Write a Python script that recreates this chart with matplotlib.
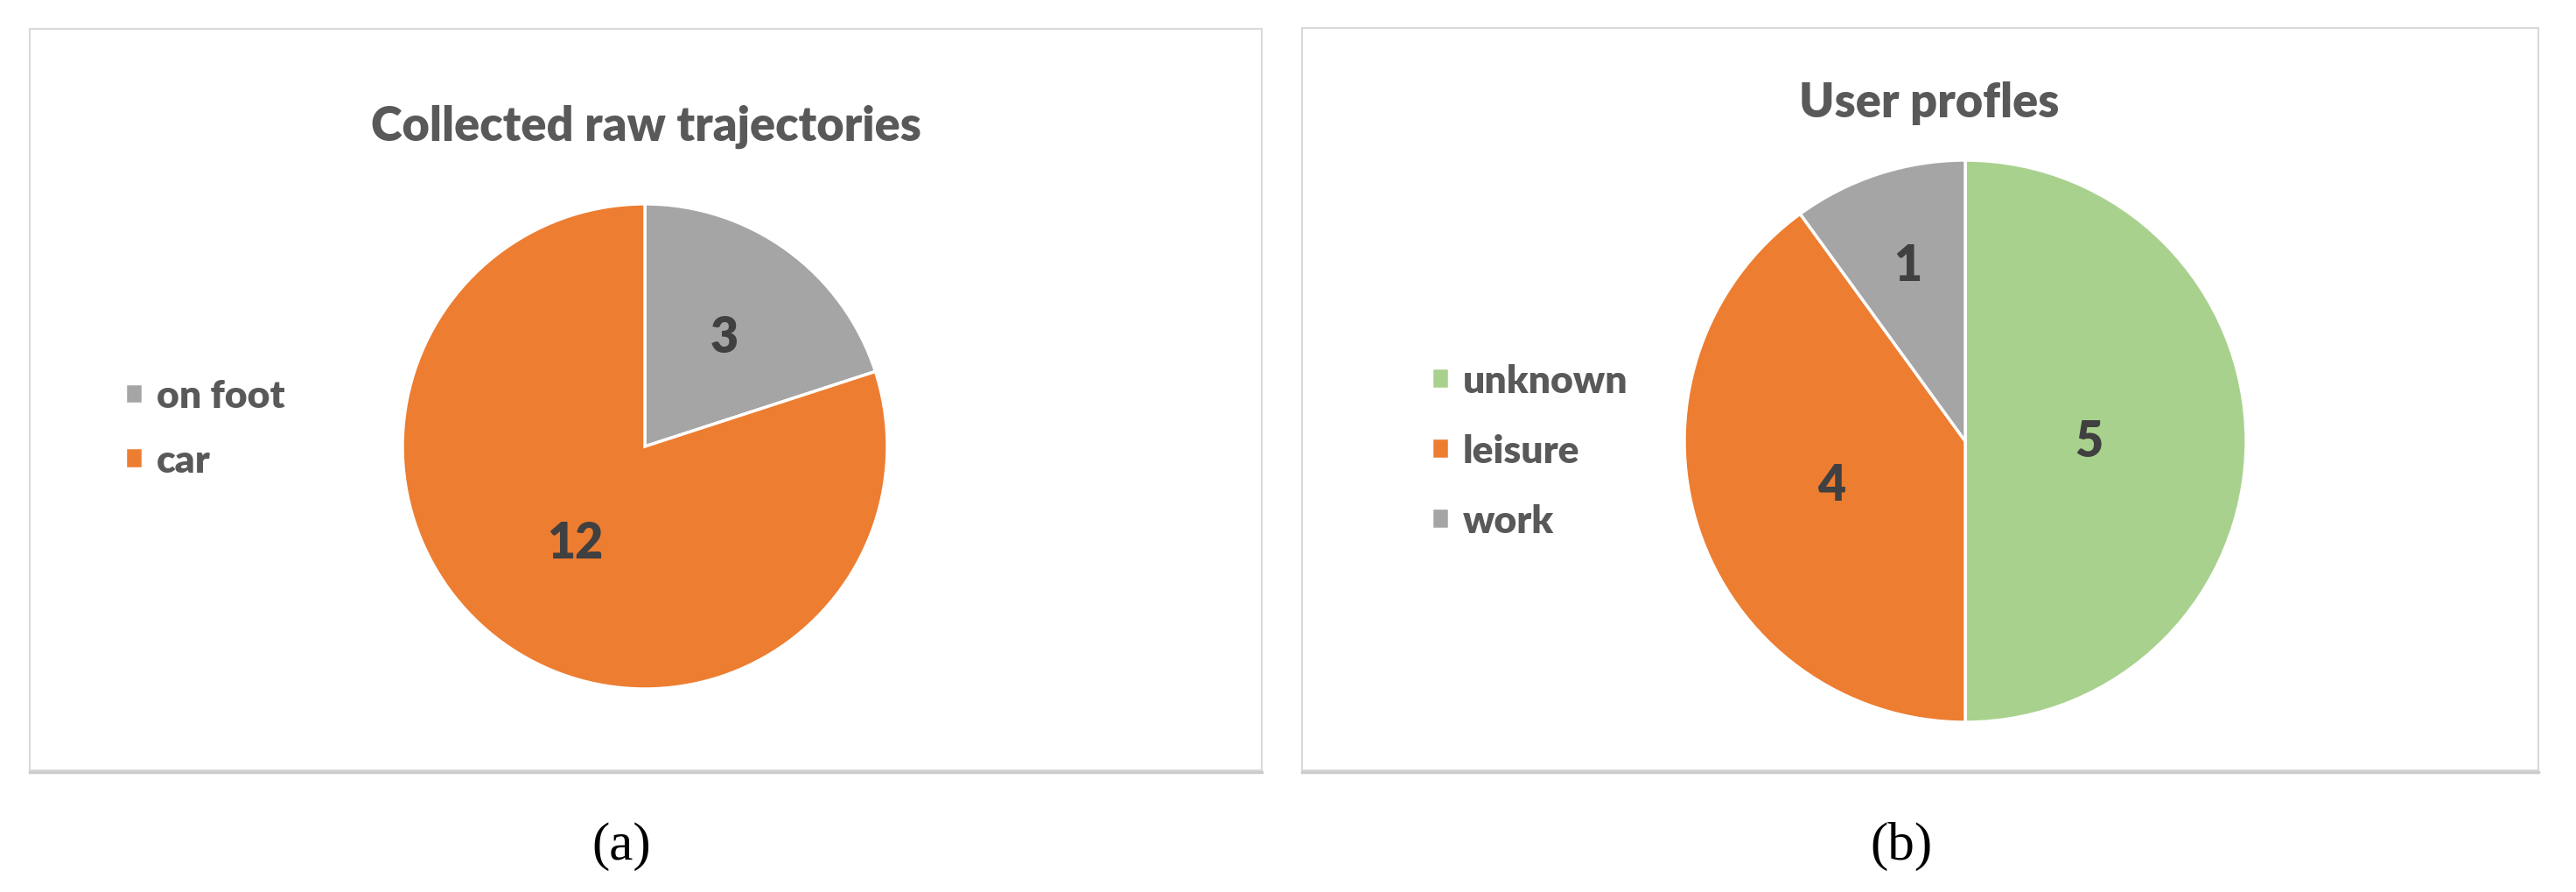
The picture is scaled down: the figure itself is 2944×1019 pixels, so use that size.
import matplotlib
matplotlib.use('Agg')
import matplotlib.pyplot as plt
from matplotlib.patches import Rectangle
import numpy as np

# data
traj_labels = ['on foot', 'car']
traj_values = [3, 12]
profile_labels = ['unknown', 'leisure', 'work']
profile_values = [5, 4, 1]

# excel-ish colours
GREY = '#A5A5A5'
ORANGE = '#ED7D31'
GREEN = '#A9D18E'
TXT = '#595959'
LBL = '#404040'

W, H = 2944, 1020
fig = plt.figure(figsize=(W / 100, H / 100), dpi=100)
plt.rcParams['font.family'] = ['Lato', 'DejaVu Sans']


def px_rect(x0, y0, x1, y1):
    # pixel box (top-left origin) -> figure fraction rect
    return [x0 / W, 1 - y1 / H, (x1 - x0) / W, (y1 - y0) / H]


def frame(x0, y0, x1, y1):
    fig.patches.append(Rectangle((x0 / W, 1 - y1 / H), (x1 - x0) / W, (y1 - y0) / H,
                                 transform=fig.transFigure, fill=False,
                                 edgecolor='#D9D9D9', lw=1.5))
    fig.lines.append(plt.Line2D([x0 / W, x1 / W], [1 - (y1 + 2) / H] * 2,
                                transform=fig.transFigure, color='#CCCCCC', lw=2.5))


def pie_panel(cx, cy, r, values, labels, colors, dists, leg_x, leg_y, spacing):
    ax = fig.add_axes(px_rect(cx - r, cy - r, cx + r, cy + r))
    wedges, _ = ax.pie(values, colors=colors, startangle=90, counterclock=False,
                       radius=1, wedgeprops=dict(edgecolor='white', linewidth=2.5))
    ax.set_xlim(-1, 1)
    ax.set_ylim(-1, 1)
    ax.set_aspect('equal')
    ax.axis('off')
    for w, v, d in zip(wedges, values, dists):
        ang = np.deg2rad((w.theta1 + w.theta2) / 2)
        ax.text(d * np.cos(ang), d * np.sin(ang), str(v), ha='center', va='center',
                fontsize=40, fontweight='heavy', color=LBL)
    ax.legend(wedges, labels, loc='center left', bbox_to_anchor=(leg_x / W, 1 - leg_y / H),
              bbox_transform=fig.transFigure, frameon=False,
              handlelength=0.45, handleheight=0.45, handletextpad=0.35,
              labelspacing=spacing, borderpad=0, borderaxespad=0,
              labelcolor=TXT, prop=dict(weight='heavy', size=32))
    return ax


frame(34, 34, 1442, 881)
frame(1488, 33, 2901, 881)

pie_panel(737, 511, 277, traj_values, traj_labels, [GREY, ORANGE], [0.56, 0.49],
          143, 490, 0.75)
pie_panel(2246, 505, 321, profile_values, profile_labels, [GREEN, ORANGE, GREY],
          [0.44, 0.5, 0.66], 1636, 516, 0.9)

fig.text(738 / W, 1 - 161 / H, 'Collected raw trajectories', ha='center', va='baseline',
         fontsize=39, fontweight='heavy', color=TXT)
fig.text(2205 / W, 1 - 134 / H, 'User profles', ha='center', va='baseline',
         fontsize=39, fontweight='heavy', color=TXT)

fig.text(710 / W, 1 - 967 / H, '(a)', ha='center', va='center', fontsize=44,
         family='Liberation Serif', color='black')
fig.text(2173 / W, 1 - 967 / H, '(b)', ha='center', va='center', fontsize=44,
         family='Liberation Serif', color='black')

plt.savefig('out.png', dpi=100, facecolor='white')
